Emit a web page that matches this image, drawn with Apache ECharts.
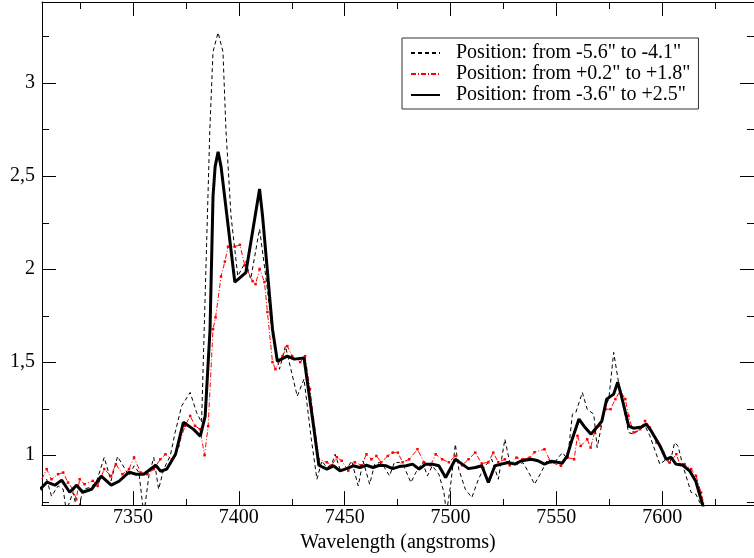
<!DOCTYPE html>
<html>
<head>
<meta charset="utf-8">
<script src="https://cdn.jsdelivr.net/npm/echarts@6/dist/echarts.min.js"></script>
<style>html,body{margin:0;padding:0;background:#fff}#c{width:754px;height:558px}</style>
</head>
<body>
<div id="c"></div>
<script>
// ---- data ----
const seriesNames = ['Position: from -5.6" to -4.1"', 'Position: from +0.2" to +1.8"', 'Position: from -3.6" to +2.5"'];

const wlA = [7306.1,7309.2,7311.5,7314.6,7317.0,7318.5,7321.6,7324.0,7326.3,7329.4,7332.6,7336.4,7339.6,7342.7,7345.8,7348.1,7350.5,7352.8,7355.1,7357.5,7359.8,7362.1,7364.5,7367.6,7369.9,7373.0,7377.0,7380.0,7382.4,7386.3,7387.8,7390.2,7392.5,7393.9,7396.3,7399.5,7403.3,7405.6,7409.8,7413.5,7415.9,7419.2,7422.0,7427.6,7430.8,7434.2,7436.9,7439.2,7441.6,7443.9,7445.5,7447.8,7450.9,7453.3,7456.4,7458.7,7461.8,7464.2,7466.5,7468.8,7471.2,7473.5,7475.8,7478.2,7481.3,7483.6,7486.8,7489.1,7491.4,7494.5,7496.9,7498.1,7500.0,7502.3,7503.9,7507.0,7510.1,7513.2,7516.3,7519.5,7522.6,7525.7,7528.0,7531.2,7534.3,7537.4,7539.7,7542.8,7545.9,7549.0,7552.9,7555.3,7557.6,7559.2,7562.3,7564.6,7567.7,7569.3,7573.2,7574.8,7577.1,7579.4,7581.8,7584.1,7586.5,7589.6,7591.9,7594.2,7598.9,7602.0,7603.6,7605.9,7607.5,7609.8,7613.7,7616.0,7618.4,7620.0];
const valA = [0.80,0.87,0.78,0.835,0.817,0.70,0.80,0.69,0.817,0.826,0.853,0.988,0.862,0.993,0.934,0.889,0.943,0.907,0.68,0.889,0.988,0.817,0.925,0.996,1.122,1.265,1.337,1.23,1.176,2.75,3.167,3.27,3.167,2.75,2.285,1.962,2.04,1.946,2.215,1.892,1.64,1.462,1.586,1.317,1.409,1.09,0.871,0.969,0.934,0.952,1.005,0.925,0.925,0.969,0.835,0.969,0.844,0.952,0.961,0.934,0.889,0.961,0.961,0.934,0.853,0.907,0.961,0.889,0.943,0.898,0.80,0.69,0.835,1.059,0.925,0.817,0.773,0.871,0.943,0.978,0.871,1.086,0.961,0.95,0.96,0.898,0.844,0.907,0.978,0.96,1.014,0.978,1.22,1.229,1.337,1.247,1.22,1.041,1.265,1.301,1.552,1.391,1.265,1.122,1.113,1.14,1.158,1.104,0.952,0.978,0.952,1.068,1.05,0.943,0.80,0.79,0.731,0.65];

const wlB = [7306.9,7309.2,7311.5,7314.6,7317.0,7319.3,7321.6,7323.2,7324.8,7327.1,7331.0,7333.3,7336.4,7339.6,7341.9,7345.0,7348.1,7350.5,7353.6,7356.7,7359.8,7362.9,7365.3,7368.4,7371.5,7374.6,7377.0,7379.3,7381.6,7383.8,7385.5,7387.8,7389.0,7391.6,7393.4,7394.9,7398.1,7400.5,7402.8,7406.5,7407.9,7409.8,7412.1,7413.5,7415.9,7417.3,7420.6,7422.9,7425.2,7429.0,7431.3,7433.6,7437.8,7441.6,7443.9,7446.3,7448.6,7451.7,7454.8,7457.9,7460.3,7462.6,7465.0,7467.3,7470.4,7472.7,7475.1,7477.4,7480.5,7484.4,7487.5,7490.6,7493.0,7496.1,7499.2,7502.3,7505.5,7508.5,7511.7,7514.8,7517.9,7520.2,7522.6,7525.7,7528.0,7531.2,7534.3,7537.4,7539.7,7544.4,7547.5,7552.2,7555.3,7558.4,7560.0,7561.5,7564.6,7566.2,7568.5,7570.9,7573.2,7575.6,7577.9,7580.2,7582.6,7584.1,7586.5,7589.6,7591.9,7594.2,7597.3,7600.5,7603.6,7606.7,7608.3,7610.6,7613.7,7616.0,7618.4,7619.9,7621.0];
const valB = [0.871,0.925,0.871,0.898,0.907,0.853,0.817,0.763,0.871,0.844,0.862,0.835,0.925,0.889,0.952,0.898,0.925,0.988,0.907,0.898,0.925,0.978,1.005,0.978,1.05,1.158,1.211,1.158,1.14,1.0,1.156,1.677,1.74,1.96,2.04,2.12,2.12,2.13,2.02,1.935,1.919,2.0,1.93,1.769,1.5,1.462,1.532,1.586,1.532,1.5,1.532,1.355,0.978,0.962,0.946,0.989,0.97,0.917,0.962,0.946,1.005,0.978,0.996,0.962,0.996,1.014,1.014,0.962,0.978,1.032,0.962,0.946,1.005,0.978,0.962,0.996,0.946,0.978,1.014,0.955,0.962,1.014,0.962,0.978,0.946,0.987,0.978,0.987,1.016,1.032,0.961,0.943,0.988,0.978,1.104,1.05,1.086,1.041,1.14,1.158,1.247,1.247,1.301,1.346,1.301,1.211,1.122,1.14,1.184,1.149,1.068,1.014,0.961,1.005,0.952,0.952,0.925,0.889,0.80,0.731,0.68];

const wlC = [7306.1,7309.3,7313.1,7316.3,7320.1,7323.4,7326.2,7330.4,7335.0,7339.7,7343.4,7348.1,7351.4,7355.1,7360.7,7363.1,7365.9,7370.1,7373.8,7378.5,7381.8,7384.1,7386.4,7387.8,7388.8,7390.2,7391.6,7398.1,7403.3,7409.8,7411.2,7415.9,7418.2,7422.9,7426.2,7430.8,7435.5,7437.8,7441.6,7444.7,7447.8,7450.9,7454.1,7457.1,7460.3,7463.4,7466.5,7469.6,7472.7,7475.8,7479.0,7482.1,7485.2,7488.3,7491.4,7494.5,7497.7,7502.3,7505.5,7508.5,7511.7,7514.8,7517.9,7521.0,7524.1,7527.2,7530.4,7533.5,7538.2,7541.3,7544.4,7547.7,7550.5,7552.8,7555.1,7557.5,7560.7,7563.1,7566.4,7569.2,7571.5,7573.8,7577.1,7579.0,7580.9,7584.2,7586.5,7590.2,7592.5,7594.9,7599.1,7601.9,7604.2,7606.5,7609.8,7613.1,7615.9,7619.2,7620.5];
const valC = [0.817,0.855,0.839,0.866,0.801,0.839,0.801,0.817,0.887,0.839,0.86,0.909,0.898,0.898,0.946,0.914,0.925,1.005,1.177,1.14,1.102,1.21,1.677,2.39,2.55,2.63,2.55,1.93,1.98,2.43,2.285,1.677,1.505,1.532,1.516,1.522,1.14,0.946,0.925,0.943,0.916,0.928,0.943,0.934,0.946,0.934,0.946,0.943,0.928,0.939,0.943,0.952,0.925,0.952,0.952,0.943,0.88,0.978,0.952,0.928,0.934,0.943,0.853,0.943,0.952,0.961,0.952,0.97,0.978,0.97,0.952,0.968,0.962,0.957,0.995,1.086,1.194,1.156,1.113,1.151,1.183,1.301,1.328,1.392,1.312,1.156,1.145,1.151,1.167,1.129,1.048,0.978,0.989,0.952,0.946,0.914,0.86,0.731,0.66];

const xMajor = [7350, 7400, 7450, 7500, 7550, 7600];
const xMinor = [7325, 7375, 7425, 7475, 7525, 7575, 7625];
const yMajor = [1, 1.5, 2, 2.5, 3];
const yMinor = [0.75, 1.25, 1.75, 2.25, 2.75, 3.25];
const xRange = [7307, 7643.4];
const yRange = [0.732, 3.434];
const xTitle = 'Wavelength (angstroms)';

// ---- chart ----
const FONT = 'Liberation Serif';
const zip = (a, b) => a.map((x, i) => [x, b[i]]);
const gridBox = { left: 42, top: 2, width: 720, height: 504 };

function xAx(grid, pos, ticks, len, labels, lineShow) {
  const o = {
    type: 'value', gridIndex: grid, position: pos, min: xRange[0], max: xRange[1],
    splitLine: { show: false },
    axisLine: { show: lineShow, onZero: false, lineStyle: { color: '#000', width: 1 } },
    axisTick: { show: true, inside: true, length: len, customValues: ticks, lineStyle: { color: '#000', width: 1 } },
    axisLabel: { show: false }
  };
  if (labels) {
    o.axisLabel = { show: true, customValues: ticks, margin: 3, color: '#000', fontFamily: FONT, fontSize: 20,
      formatter: v => String(v) };
    o.name = xTitle; o.nameLocation = 'middle'; o.nameGap = 27;
    o.nameTextStyle = { color: '#000', fontFamily: FONT, fontSize: 20 };
  }
  return o;
}
function yAx(grid, pos, ticks, len, labels, lineShow) {
  const o = {
    type: 'value', gridIndex: grid, position: pos, min: yRange[0], max: yRange[1],
    splitLine: { show: false },
    axisLine: { show: lineShow, onZero: false, lineStyle: { color: '#000', width: 1 } },
    axisTick: { show: true, inside: true, length: len, customValues: ticks, lineStyle: { color: '#000', width: 1 } },
    axisLabel: { show: false }
  };
  if (labels) {
    o.axisLabel = { show: true, customValues: ticks, margin: 7, color: '#000', fontFamily: FONT, fontSize: 20,
      formatter: v => String(v).replace('.', ',') };
  }
  return o;
}

const chart = echarts.init(document.getElementById('c'), null, { renderer: 'canvas' });
chart.setOption({
  animation: false,
  backgroundColor: '#fff',
  grid: [Object.assign({}, gridBox), Object.assign({}, gridBox)],
  xAxis: [
    xAx(0, 'bottom', xMajor, 14, true, true),
    xAx(0, 'top', xMajor, 14, false, true),
    xAx(1, 'bottom', xMinor, 7, false, false),
    xAx(1, 'top', xMinor, 7, false, false)
  ],
  yAxis: [
    yAx(0, 'left', yMajor, 14, true, true),
    yAx(0, 'right', yMajor, 14, false, true),
    yAx(1, 'left', yMinor, 7, false, false),
    yAx(1, 'right', yMinor, 7, false, false)
  ],
  legend: {
    orient: 'vertical', left: 402, top: 38,
    padding: [5, 8, 4, 8],
    itemWidth: 29, itemHeight: 14, itemGap: 1,
    borderColor: '#333', borderWidth: 1, backgroundColor: '#fff',
    textStyle: { color: '#000', fontFamily: FONT, fontSize: 20, padding: [0, 0, 0, 11] },
    data: seriesNames.map(n => ({ name: n, itemStyle: { opacity: 0 } }))
  },
  series: [
    { name: seriesNames[0], type: 'line', xAxisIndex: 0, yAxisIndex: 0, data: zip(wlA, valA),
      symbol: 'none', color: '#000', clip: true,
      lineStyle: { color: '#000', width: 1, type: [4, 3] }, z: 2 },
    { name: seriesNames[1], type: 'line', xAxisIndex: 0, yAxisIndex: 0, data: zip(wlB, valB),
      symbol: 'rect', symbolSize: 2.5, showSymbol: true, color: '#ff0000', clip: true,
      itemStyle: { color: '#ff0000' },
      lineStyle: { color: '#ff0000', width: 1, type: [5, 2, 1, 2] }, z: 3 },
    { name: seriesNames[2], type: 'line', xAxisIndex: 0, yAxisIndex: 0, data: zip(wlC, valC),
      symbol: 'none', color: '#000', clip: true,
      lineStyle: { color: '#000', width: 3 }, z: 4 }
  ]
});
</script>
</body>
</html>
